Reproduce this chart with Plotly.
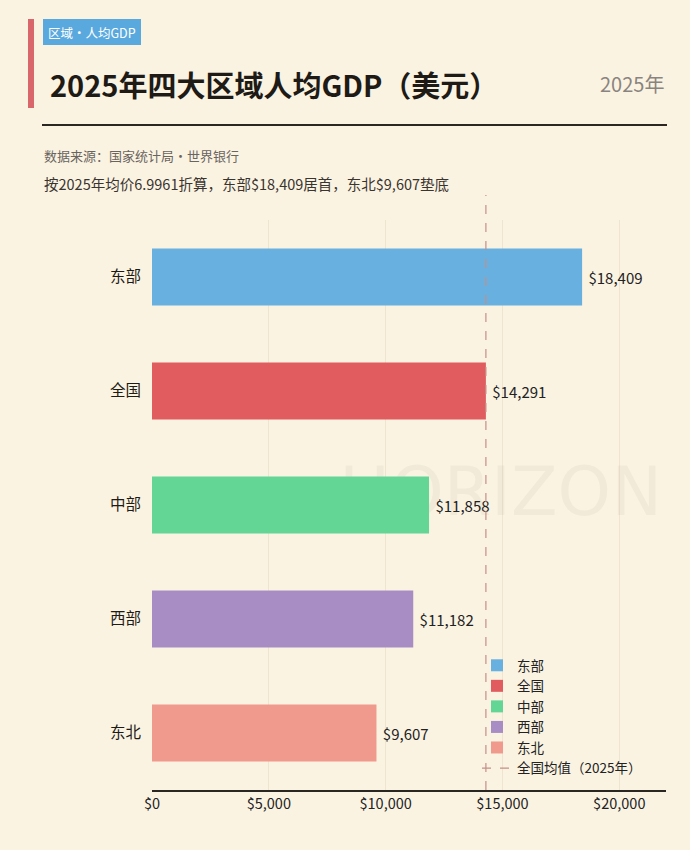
import plotly.graph_objects as go

categories = ["东部", "全国", "中部", "西部", "东北"]
values = [18409, 14291, 11858, 11182, 9607]
colors = ["#68b0e0", "#e05c5f", "#63d595", "#a88dc4", "#f09a8d"]
national_avg = 14291
x_ticks = [0, 5000, 10000, 15000, 20000]

W, H = 690, 850
L, R, T, B = 152, 24, 220, 60
PW, PH = W - L - R, H - T - B

def px(x):
    return (x - L) / PW

def py(y):
    return (H - B - y) / PH

FONT = "Noto Sans CJK SC"

fig = go.Figure()

# watermark drawn underneath the bars (base subplot)
fig.add_trace(go.Scatter(
    x=[px(662)], y=[py(498)], mode="text", text=["HORIZON"],
    textposition="middle left", showlegend=False, hoverinfo="skip",
    textfont=dict(size=68, color="rgba(120,95,60,0.06)", family="DejaVu Sans"),
    xaxis="x", yaxis="y", cliponaxis=False,
))

for c, v, col in zip(categories, values, colors):
    fig.add_trace(go.Bar(
        y=[c], x=[v], orientation="h", name=c, width=0.5,
        marker=dict(color=col, line=dict(width=0)),
        text=[f" ${v:,}"], textposition="outside", cliponaxis=False,
        textfont=dict(size=15, color="#222222", family=FONT),
        xaxis="x2", yaxis="y2",
    ))

shapes = [
    dict(type="line", xref="x2", yref="paper", x0=national_avg, x1=national_avg,
         y0=0, y1=py(195), line=dict(color="#c49088", width=1.2, dash="dash"),
         showlegend=True, name="全国均值（2025年）"),
    dict(type="rect", xref="paper", yref="paper", x0=px(28), x1=px(34),
         y0=py(108), y1=py(19), fillcolor="#d9666a", line=dict(width=0), layer="above"),
    dict(type="rect", xref="paper", yref="paper", x0=px(43), x1=px(141),
         y0=py(45), y1=py(19), fillcolor="#5aa9de", line=dict(width=0), layer="above"),
    dict(type="line", xref="paper", yref="paper", x0=px(42), x1=px(667),
         y0=py(125), y1=py(125), line=dict(color="#2a2622", width=2)),
]

annotations = [
    dict(text="区域·人均GDP", x=px(92), y=py(32), xref="paper", yref="paper",
         showarrow=False, xanchor="center", yanchor="middle",
         font=dict(size=12.5, color="white", family=FONT)),
    dict(text="<b>2025年四大区域人均GDP（美元）</b>", x=px(48), y=py(84), xref="paper", yref="paper",
         showarrow=False, xanchor="left", yanchor="middle",
         font=dict(size=29, color="#1e1a16", family=FONT)),
    dict(text="2025年", x=px(666), y=py(84), xref="paper", yref="paper",
         showarrow=False, xanchor="right", yanchor="middle",
         font=dict(size=20, color="#8a8480", family=FONT)),
    dict(text="数据来源：国家统计局·世界银行", x=px(42), y=py(155), xref="paper", yref="paper",
         showarrow=False, xanchor="left", yanchor="middle",
         font=dict(size=13, color="#6a6460", family=FONT)),
    dict(text="按2025年均价6.9961折算，东部$18,409居首，东北$9,607垫底", x=px(42), y=py(183),
         xref="paper", yref="paper", showarrow=False, xanchor="left", yanchor="middle",
         font=dict(size=14.5, color="#3a3430", family=FONT)),
]

fig.update_layout(
    width=W, height=H,
    margin=dict(l=L, r=R, t=T, b=B),
    paper_bgcolor="#faf3e2", plot_bgcolor="#faf3e2",
    barmode="overlay",
    shapes=shapes, annotations=annotations,
    showlegend=True,
    legend=dict(x=px(477), y=py(650), xanchor="left", yanchor="top",
                bgcolor="rgba(0,0,0,0)", font=dict(size=13.5, color="#222222", family=FONT),
                tracegroupgap=0, itemwidth=30),
    font=dict(family=FONT),
    xaxis=dict(range=[0, 1], visible=False, fixedrange=True),
    yaxis=dict(range=[0, 1], visible=False, fixedrange=True),
    xaxis2=dict(overlaying="x", side="bottom", range=[0, 22000], tickvals=x_ticks,
                ticktext=[f"${t:,}" for t in x_ticks],
                showgrid=True, gridcolor="#efe5cf", gridwidth=1,
                zeroline=False, showline=True, linecolor="#2a2622", linewidth=1.5,
                ticks="", tickfont=dict(size=14.5, color="#222222", family=FONT)),
    yaxis2=dict(overlaying="y", side="left", categoryorder="array", categoryarray=categories,
                autorange="reversed",
                showgrid=False, zeroline=False, showline=False, ticks="",
                ticklabelstandoff=10,
                tickfont=dict(size=15.5, color="#1e1a16", family=FONT)),
)

fig.write_html("out.html")
